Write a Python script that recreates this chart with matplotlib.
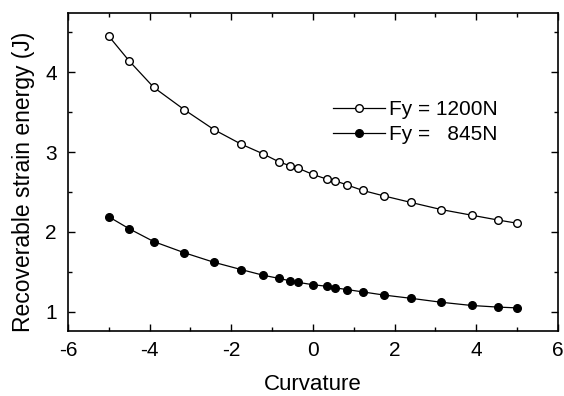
import matplotlib
matplotlib.use('Agg')
import matplotlib.pyplot as plt
from matplotlib.ticker import MultipleLocator

plt.rcParams['font.family'] = ['Liberation Sans', 'DejaVu Sans']
plt.rcParams['axes.unicode_minus'] = False

# curvature values (same for both series)
curv = [-5.0, -4.5, -3.9, -3.15, -2.42, -1.76, -1.23, -0.84, -0.57, -0.37, 0.0,
        0.35, 0.55, 0.83, 1.22, 1.75, 2.4, 3.15, 3.89, 4.53, 5.0]
# recoverable strain energy (J)
e_1200 = [4.45, 4.14, 3.81, 3.53, 3.28, 3.10, 2.98, 2.88, 2.83, 2.80, 2.72,
          2.66, 2.64, 2.59, 2.52, 2.45, 2.37, 2.28, 2.21, 2.15, 2.11]
e_845 = [2.19, 2.04, 1.88, 1.74, 1.62, 1.53, 1.46, 1.42, 1.39, 1.37, 1.34,
         1.32, 1.30, 1.28, 1.25, 1.21, 1.17, 1.12, 1.08, 1.06, 1.05]
labels = ['Fy = 1200N', 'Fy =   845N']

fig = plt.figure(figsize=(5.64, 3.96), dpi=100)
ax = fig.add_axes([0.1206, 0.164, 0.8684, 0.803])

ax.plot(curv, e_1200, '-o', color='black', lw=0.9, ms=5.5,
        mfc='white', mec='black', mew=1.0, label=labels[0])
ax.plot(curv, e_845, '-o', color='black', lw=0.9, ms=5.5,
        mfc='black', mec='black', label=labels[1])

ax.set_xlim(-6, 6)
ax.set_ylim(0.76, 4.74)
ax.xaxis.set_major_locator(MultipleLocator(2))
ax.xaxis.set_minor_locator(MultipleLocator(1))
ax.yaxis.set_major_locator(MultipleLocator(1))
ax.yaxis.set_minor_locator(MultipleLocator(0.5))
ax.tick_params(which='both', direction='in', top=True, right=True,
               labelsize=15, width=1.0)
ax.tick_params(which='major', length=5)
ax.tick_params(which='minor', length=3)
ax.tick_params(axis='x', pad=7)
ax.tick_params(axis='y', pad=8)
for s in ax.spines.values():
    s.set_linewidth(1.2)

ax.set_xlabel('Curvature', fontsize=16, labelpad=10)
ax.set_ylabel('Recoverable strain energy (J)', fontsize=16.5)
ax.yaxis.set_label_coords(-0.067, 0.47)

ax.legend(loc='upper left', bbox_to_anchor=(0.52, 0.76), frameon=False,
          fontsize=15, handlelength=2.5, handletextpad=0.2, labelspacing=0.3,
          borderpad=0)

fig.savefig('out.png', dpi=100)
